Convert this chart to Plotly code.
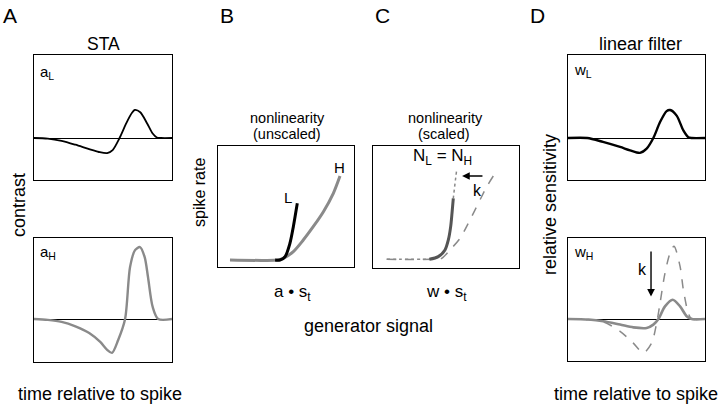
import plotly.graph_objects as go

W, H = 720, 406

# ---------------- data ----------------
# A: spike-triggered averages (time axis 0..100, baseline = 0)
t_aL = [0, 10, 20, 30, 40, 47, 53, 57, 62, 67, 71, 73, 77, 82, 86, 89, 92, 100]
a_L = [0, -0.02, -0.1, -0.24, -0.4, -0.5, -0.54, -0.43, 0, 0.54, 0.9, 1.0, 0.92, 0.52, 0.16, 0.02, 0, 0]

t_aH = [0, 10, 20, 30, 40, 48, 53, 56.5, 61, 66, 69.6, 73.2, 76.8, 80.2, 82.6, 86, 90, 100]
a_H = [0, -0.03, -0.1, -0.26, -0.5, -0.82, -1.1, -1.21, -0.75, 0, 1.86, 2.46, 2.57, 2.21, 1.5, 0.43, 0, 0]

# B: unscaled nonlinearities (generator signal a*s_t vs spike rate)
H_x = [8.8, 43.1, 48, 55.4, 62.7, 70, 77.5, 84.8, 89.7]
H_y = [5.8, 5.8, 7.2, 12.7, 22.3, 33.3, 45.7, 60.9, 75.2]
L_x = [42, 45.6, 49.3, 52.9, 55.4, 58.3]
L_y = [5.8, 5.8, 8.5, 19.6, 33.3, 52.6]

# C: scaled nonlinearities (w*s_t)
N_x = [9.4, 36.8, 38.6, 44.7, 49.3, 51.6, 53.2, 54.1, 55, 57.3]
N_y = [7.1, 7.1, 7.1, 9.3, 14.8, 23, 33.9, 44.8, 57.1, 80.3]
Nthick_x = [38.6, 44.7, 49.3, 51.6, 53.2, 54.1, 55]
Nthick_y = [7.1, 9.3, 14.8, 23, 33.9, 44.8, 57.1]
Hd_x = [9.4, 40, 47, 52.7, 59.6, 66.4, 72.1, 77.9, 82.4]
Hd_y = [7.1, 7.1, 7.9, 14.8, 24.3, 39.3, 53, 66.6, 75.4]

# D: linear filters
t_wL = [0, 14, 25.5, 38, 45.3, 52.5, 57.4, 62.3, 67.2, 72, 74.5, 79.3, 84.2, 87.8, 90.3, 100]
w_L = [0, 0, -0.14, -0.32, -0.44, -0.53, -0.38, 0, 0.57, 0.96, 1.0, 0.8, 0.27, 0.03, 0, 0]

t_wH = [0, 15, 25.8, 38, 47.7, 57.4, 62.3, 66, 70.8, 76.4, 81.8, 86.6, 90.3, 100]
w_H = [0, -0.02, -0.08, -0.2, -0.3, -0.32, -0.2, 0, 0.45, 0.69, 0.45, 0.1, 0, 0]

t_wHu = [0, 15, 25.8, 38, 47.7, 55, 61, 64.7, 67.2, 70.8, 74.5, 77.4, 81.8, 84.2, 87.8, 90.3, 100]
w_Hu = [0, -0.03, -0.1, -0.44, -0.86, -1.21, -0.86, -0.15, 0.57, 1.64, 2.36, 2.6, 1.88, 1.05, 0.21, 0, 0]

# ---------------- helpers ----------------
def px(x):
    return x / W

def py(y):
    return 1 - y / H

FONT = "Liberation Sans, Arial, Helvetica, sans-serif"
GRAY = "#8a8a8a"

fig = go.Figure()

def add(x, y, ax, color, width, dash="solid"):
    fig.add_trace(go.Scatter(
        x=x, y=y, mode="lines", xaxis="x" + ax, yaxis="y" + ax,
        line=dict(color=color, width=width, dash=dash, shape="spline", smoothing=0.8),
        hoverinfo="skip", showlegend=False))

add(t_aL, a_L, "", "black", 1.8)
add(t_aH, a_H, "2", GRAY, 2.4)
add(H_x, H_y, "3", GRAY, 3)
add(L_x, L_y, "3", "black", 3)
add(Hd_x, Hd_y, "4", GRAY, 1.5, "dash")
add(N_x, N_y, "4", GRAY, 1.5, "dot")
add(Nthick_x, Nthick_y, "4", "#555555", 3)
add(t_wL, w_L, "5", "black", 2.4)
add(t_wHu, w_Hu, "6", GRAY, 1.5, "dash")
add(t_wH, w_H, "6", GRAY, 2.6)

def axis_pair(n, x0, x1, y0, y1, yr, zero):
    xa = dict(domain=[px(x0), px(x1)], range=[0, 100], showline=True, mirror=True,
              linecolor="black", linewidth=1.3, showticklabels=False, ticks="",
              showgrid=False, zeroline=False, fixedrange=True,
              anchor="y" + ("" if n == 1 else str(n)))
    ya = dict(domain=[py(y1), py(y0)], range=yr, showline=True, mirror=True,
              linecolor="black", linewidth=1.3, showticklabels=False, ticks="",
              showgrid=False, zeroline=zero, zerolinecolor="black", zerolinewidth=1.2,
              fixedrange=True, anchor="x" + ("" if n == 1 else str(n)))
    return xa, ya

layout_axes = {}
specs = [
    (1, 34, 172, 55, 180, [-(180 - 138) / 28, (138 - 55) / 28], True),
    (2, 34, 172, 238, 362, [-(362 - 319) / 28, (319 - 238) / 28], True),
    (3, 218, 354, 146, 267, [0, 100], False),
    (4, 373, 519, 146, 268, [0, 100], False),
    (5, 568, 705, 55, 180, [-(180 - 138) / 28, (138 - 55) / 28], True),
    (6, 568, 705, 238, 361, [-(361 - 319) / 28, (319 - 238) / 28], True),
]
for n, x0, x1, y0, y1, yr, z in specs:
    xa, ya = axis_pair(n, x0, x1, y0, y1, yr, z)
    key = "" if n == 1 else str(n)
    layout_axes["xaxis" + key] = xa
    layout_axes["yaxis" + key] = ya

ann = []

def text(t, x, y, size, angle=0, xanchor="center"):
    ann.append(dict(text=t, x=px(x), y=py(y), xref="paper", yref="paper",
                    showarrow=False, xanchor=xanchor, yanchor="middle", borderpad=0,
                    textangle=angle, font=dict(family=FONT, size=size, color="black")))

text("A", 10, 15, 21)
text("B", 227, 15, 21)
text("C", 382, 15, 21)
text("D", 537, 15, 21)
text("STA", 103, 44, 17.5)
text("linear filter", 640, 44, 18)
text("a<sub>L</sub>", 39, 72, 15, xanchor="left")
text("a<sub>H</sub>", 39, 253, 15, xanchor="left")
text("w<sub>L</sub>", 573, 71, 15, xanchor="left")
text("w<sub>H</sub>", 573, 253, 15, xanchor="left")
text("contrast", 19, 205, 18, angle=-90)
text("spike rate", 200, 193, 16, angle=-90)
text("relative sensitivity", 550, 205, 18, angle=-90)
text("nonlinearity", 287, 118, 14.5)
text("(unscaled)", 287, 134, 14.5)
text("nonlinearity", 445, 118, 14.5)
text("(scaled)", 444, 134, 14.5)
text("L", 288, 197, 15)
text("H", 339, 167, 15)
text("N<sub>L</sub> = N<sub>H</sub>", 442, 157, 17)
text("k", 477, 190, 16)
text("k", 642, 269, 16)
text("a \u2022 s<sub>t</sub>", 292, 293, 17)
text("w \u2022 s<sub>t</sub>", 446, 293, 17)
text("generator signal", 368, 326, 18)
text("time relative to spike", 100, 394, 18)
text("time relative to spike", 636, 394, 18)

# arrows
ann.append(dict(x=61, y=75.4, ax=76, ay=75.4, xref="x4", yref="y4", axref="x4", ayref="y4",
                showarrow=True, arrowhead=2, arrowsize=1.1, arrowwidth=1.4, arrowcolor="black", text=""))
ann.append(dict(x=60.6, y=0.8, ax=60.6, ay=2.46, xref="x6", yref="y6", axref="x6", ayref="y6",
                showarrow=True, arrowhead=2, arrowsize=1.1, arrowwidth=1.4, arrowcolor="black", text=""))

fig.update_layout(width=W, height=H, margin=dict(l=0, r=0, t=0, b=0),
                  paper_bgcolor="white", plot_bgcolor="white",
                  font=dict(family=FONT, color="black"),
                  annotations=ann, showlegend=False, **layout_axes)

fig.write_html("out.html", config={"displayModeBar": False},
               post_script="document.body.style.margin='0';document.body.style.overflow='hidden';")
